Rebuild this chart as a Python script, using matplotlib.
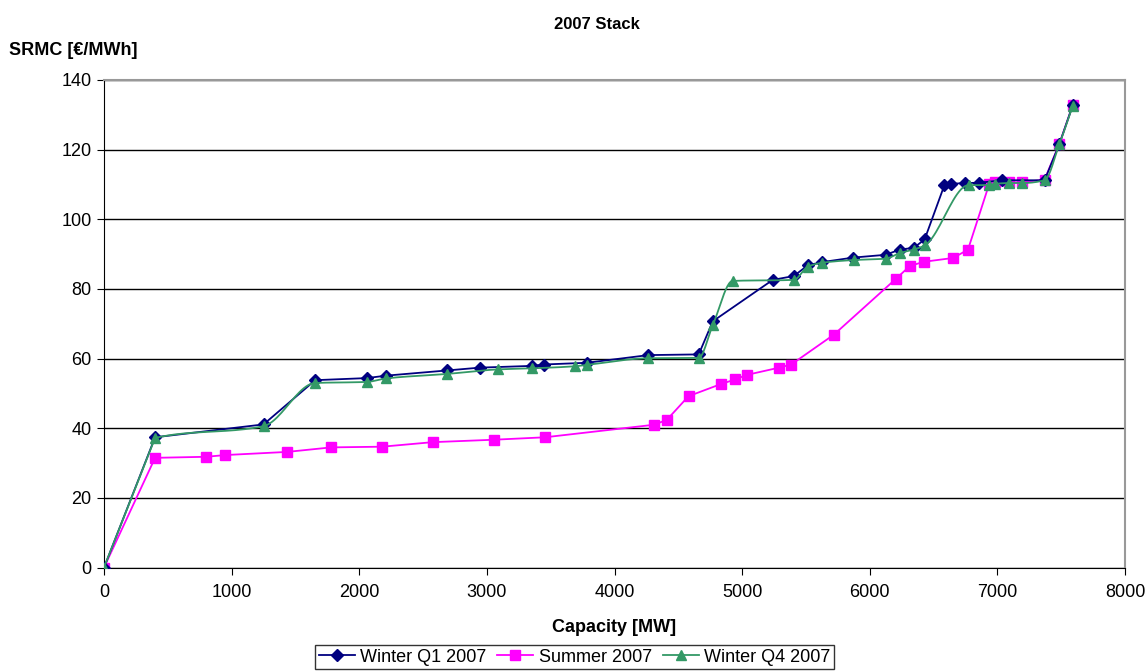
import numpy as np
import matplotlib.pyplot as plt

plt.rcParams['font.family'] = ['Liberation Sans', 'DejaVu Sans']

# Kraftwerks-Einsatzreihenfolge 2007: Kapazität [MW] gegen SRMC [€/MWh]
winter_q1_mw = [0, 400, 1250, 1655, 2060, 2210, 2690, 2945, 3350, 3445, 3785,
                4265, 4660, 4770, 5240, 5405, 5515, 5625, 5870, 6125, 6235,
                6345, 6430, 6585, 6640, 6750, 6860, 7035, 7370, 7485, 7590]
winter_q1_srmc = [0, 37.4, 41.1, 53.8, 54.4, 55.1, 56.6, 57.4, 57.9, 58.3, 58.8,
                  61.0, 61.2, 70.7, 82.6, 83.7, 86.8, 87.7, 89.0, 89.8, 91.3,
                  91.8, 94.2, 109.8, 110.2, 110.4, 110.5, 111.2, 111.2, 121.5, 132.7]

summer_mw = [0, 400, 800, 950, 1435, 1780, 2180, 2575, 3055, 3455, 4310, 4410,
             4580, 4835, 4945, 5035, 5290, 5385, 5720, 6205, 6315, 6425, 6655,
             6770, 6935, 6985, 7090, 7195, 7370, 7485, 7590]
summer_srmc = [0, 31.5, 31.8, 32.3, 33.2, 34.5, 34.7, 36.0, 36.7, 37.4, 41.0, 42.4,
               49.2, 52.7, 54.0, 55.3, 57.4, 58.3, 66.9, 82.9, 86.6, 87.8, 88.9,
               91.3, 110.0, 110.6, 110.6, 110.6, 111.4, 121.6, 132.7]

winter_q4_mw = [0, 400, 1250, 1655, 2060, 2210, 2690, 3090, 3350, 3690, 3785,
                4265, 4660, 4770, 4925, 5405, 5515, 5625, 5875, 6125, 6235,
                6345, 6430, 6775, 6935, 6985, 7090, 7195, 7370, 7485, 7590]
winter_q4_srmc = [0, 37.2, 40.6, 53.0, 53.3, 54.3, 55.6, 56.9, 57.2, 57.8, 58.2,
                  60.1, 60.2, 69.6, 82.3, 82.6, 86.4, 87.5, 88.3, 88.7, 90.3,
                  91.3, 92.5, 109.8, 109.8, 110.2, 110.4, 110.4, 111.2, 121.5, 132.5]


def geglaettet(x, y, n=24):
    # monotone kubische Hermite-Kurve (Fritsch-Carlson) durch die Punkte,
    # das erste Segment bleibt eine Gerade
    x = np.asarray(x, float)
    y = np.asarray(y, float)
    h = np.diff(x)
    delta = np.diff(y) / h
    d = np.zeros_like(y)
    d[0], d[-1] = delta[0], delta[-1]
    for k in range(1, len(x) - 1):
        if delta[k - 1] * delta[k] <= 0:
            d[k] = 0
        else:
            w1 = 2 * h[k] + h[k - 1]
            w2 = h[k] + 2 * h[k - 1]
            d[k] = (w1 + w2) / (w1 / delta[k - 1] + w2 / delta[k])
    xs, ys = [x[0]], [y[0]]
    t = np.linspace(0, 1, n)
    h00 = 2 * t ** 3 - 3 * t ** 2 + 1
    h10 = t ** 3 - 2 * t ** 2 + t
    h01 = -2 * t ** 3 + 3 * t ** 2
    h11 = t ** 3 - t ** 2
    for k in range(1, len(x) - 1):
        xs.extend(x[k] + t * h[k])
        ys.extend(h00 * y[k] + h10 * h[k] * d[k] + h01 * y[k + 1] + h11 * h[k] * d[k + 1])
    return xs, ys


fig = plt.figure(figsize=(11.47, 6.71), dpi=100)
ax = fig.add_axes([0.0907, 0.1542, 0.8901, 0.7266])

navy = '#000080'
pink = '#FF00FF'
gruen = '#339966'

ax.plot(winter_q1_mw, winter_q1_srmc, color=navy, lw=1.3, marker='D', ms=6,
        label='Winter Q1 2007', zorder=3)
ax.plot(summer_mw, summer_srmc, color=pink, lw=1.3, marker='s', ms=6.5,
        label='Summer 2007', zorder=2)
gx, gy = geglaettet(winter_q4_mw, winter_q4_srmc)
ax.plot(gx, gy, color=gruen, lw=1.3, zorder=4)
ax.plot(winter_q4_mw, winter_q4_srmc, color=gruen, lw=0, marker='^', ms=7.5, zorder=4)
ax.plot([], [], color=gruen, lw=1.3, marker='^', ms=7.5, label='Winter Q4 2007')

ax.set_xlim(0, 8000)
ax.set_ylim(0, 140)
ax.set_xticks(np.arange(0, 8001, 1000))
ax.set_yticks(np.arange(0, 141, 20))
ax.yaxis.grid(True, color='black', lw=1)
ax.set_axisbelow(True)
ax.tick_params(direction='out', length=5, labelsize=13, colors='black')
ax.tick_params(axis='x', pad=7)
ax.tick_params(axis='y', pad=4)

for s in ('top', 'right'):
    ax.spines[s].set_color('#999999')
    ax.spines[s].set_linewidth(1.5)
for s in ('left', 'bottom'):
    ax.spines[s].set_color('black')

fig.text(0.52, 0.963, '2007 Stack', ha='center', va='center', fontsize=12, fontweight='bold')
fig.text(0.008, 0.925, 'SRMC [€/MWh]', ha='left', va='center', fontsize=13, fontweight='bold')
fig.text(0.535, 1 - 628 / 671, 'Capacity [MW]', ha='center', va='center',
         fontsize=13, fontweight='bold')

leg = fig.legend(loc='lower center', bbox_to_anchor=(0.501, 0.0), ncol=3,
                 fontsize=13, frameon=True, fancybox=False, edgecolor='black',
                 handlelength=2.0, handletextpad=0.3, columnspacing=0.6,
                 borderpad=0.2, borderaxespad=0.1)
leg.get_frame().set_linewidth(1)

fig.savefig('out.png', dpi=100)
